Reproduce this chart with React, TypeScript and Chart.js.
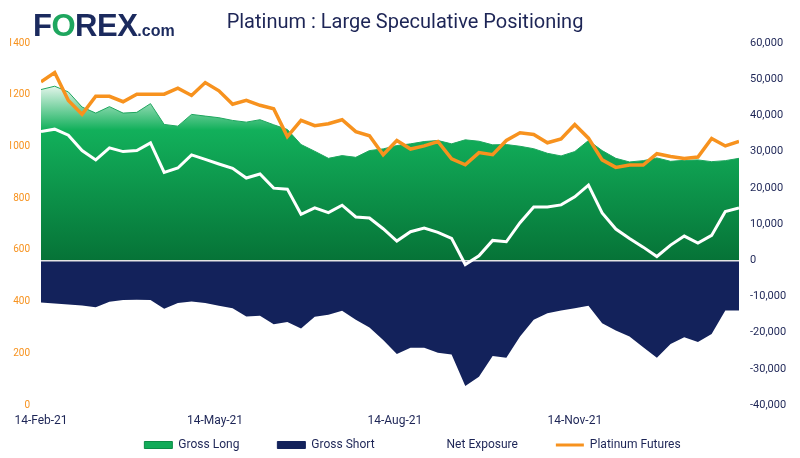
import React, { useEffect, useRef } from "react";
import { Chart, registerables } from "chart.js";

Chart.register(...registerables);

// Weekly report dates (categories)
const WEEKS = [
  "2021-02-14", "2021-02-21", "2021-02-28", "2021-03-07", "2021-03-14", "2021-03-21", "2021-03-28",
  "2021-04-04", "2021-04-11", "2021-04-18", "2021-04-25", "2021-05-02", "2021-05-09", "2021-05-16",
  "2021-05-23", "2021-05-30", "2021-06-06", "2021-06-13", "2021-06-20", "2021-06-27", "2021-07-04",
  "2021-07-11", "2021-07-18", "2021-07-25", "2021-08-01", "2021-08-08", "2021-08-15", "2021-08-22",
  "2021-08-29", "2021-09-05", "2021-09-12", "2021-09-19", "2021-09-26", "2021-10-03", "2021-10-10",
  "2021-10-17", "2021-10-24", "2021-10-31", "2021-11-07", "2021-11-14", "2021-11-21", "2021-11-28",
  "2021-12-05", "2021-12-12", "2021-12-19", "2021-12-26", "2022-01-02", "2022-01-09", "2022-01-16",
  "2022-01-23", "2022-01-30", "2022-02-06",
];

const X_TICK_DATES = ["2021-02-14", "2021-05-14", "2021-08-14", "2021-11-14"];
const X_TICK_LABELS = ["14-Feb-21", "14-May-21", "14-Aug-21", "14-Nov-21"];

const GROSS_LONG = [
  47140, 48060, 46480, 42310, 40640, 42420, 40640, 40840, 43250, 37500, 37030, 40280, 39810, 39360,
  38610, 38140, 38810, 37420, 36110, 31950, 30090, 28140, 28890, 28420, 30280, 30750, 31670, 32140,
  32780, 33060, 32140, 33250, 32860, 31860, 31950, 31470, 30800, 29530, 28810, 30000, 33060, 30280,
  28140, 27140, 27500, 28250, 27310, 27590, 27700, 27220, 27500, 28140,
];

const GROSS_SHORT = [
  -11670, -11940, -12220, -12500, -12970, -11480, -11020, -10930, -11020, -13430, -11850, -11390,
  -11850, -12590, -13240, -15560, -15370, -17680, -17040, -18890, -15650, -15090, -13980, -16480,
  -18610, -22040, -25930, -24170, -24170, -25560, -26020, -34720, -32220, -26480, -26940, -21110,
  -16480, -14630, -13890, -13240, -12590, -17410, -19440, -21110, -24080, -26940, -23150, -21300,
  -22590, -20370, -13890, -13890,
];

const NET_EXPOSURE = [
  35560, 36200, 34540, 30280, 27690, 31020, 30000, 30280, 32410, 24260, 25460, 29080, 27870, 26580,
  25370, 22690, 23800, 19910, 19630, 12690, 14440, 13150, 15190, 11940, 11670, 8700, 5280, 7870,
  8890, 7690, 6020, -1200, 1200, 5460, 5090, 10370, 14720, 14720, 15280, 17500, 20740, 13060, 8610,
  6020, 3610, 1020, 4170, 6670, 4720, 6850, 13430, 14440,
];

const PLATINUM_FUTURES = [
  1250, 1286, 1178, 1124, 1194, 1194, 1173, 1202, 1202, 1202, 1225, 1197, 1247, 1215, 1163, 1178,
  1159, 1146, 1038, 1101, 1080, 1088, 1103, 1057, 1041, 968, 1023, 990, 1002, 1019, 952, 929, 976,
  968, 1023, 1053, 1046, 1014, 1029, 1085, 1032, 948, 919, 928, 928, 972, 961, 953, 959, 1031, 1002,
  1019,
];

const NAVY = "#13225b";
const TEXT_NAVY = "#1d2556";
const ORANGE = "#f7921e";
const GREEN = "#12ab59";
const FONT = "Roboto, 'Open Sans', sans-serif";

const day = (s: string) => Date.parse(s + "T00:00:00Z") / 86400000;
const toXY = (vals: number[]) => vals.map((v, i) => ({ x: day(WEEKS[i]), y: v }));

const LEGEND_STYLE: any[] = [
  { pointStyle: "rect", fillStyle: GREEN, strokeStyle: "#0c8c47", lineWidth: 1 },
  { pointStyle: "rect", fillStyle: NAVY, strokeStyle: NAVY, lineWidth: 1 },
  { pointStyle: "line", fillStyle: "#ffffff", strokeStyle: "#ffffff", lineWidth: 3 },
  { pointStyle: "line", fillStyle: ORANGE, strokeStyle: ORANGE, lineWidth: 3 },
];

const PAD_LEFT = 10;
const LEGEND_PAD = 38;
const X_AXIS_H = 23;
const BOTTOM_PAD = -30;
const LEGEND_SHIFT_Y = 27;
const LEGEND_SHIFT_X = 15;

const longFill = (ctx: any) => {
  const chart = ctx.chart;
  const { chartArea, scales } = chart;
  if (!chartArea || !scales || !scales.y1) return GREEN;
  const y = scales.y1;
  const top = y.getPixelForValue(49000);
  const full = y.getPixelForValue(36000);
  const bottom = y.getPixelForValue(0);
  const g = chart.ctx.createLinearGradient(0, top, 0, bottom);
  g.addColorStop(0, "#f2faf5");
  g.addColorStop((full - top) / (bottom - top), "#12b05b");
  g.addColorStop(1, "#067337");
  return g;
};

const zeroLine = {
  id: "zeroLine",
  afterDatasetDraw(chart: any, args: any) {
    if (args.index !== 1) return;
    const y = chart.scales.y1.getPixelForValue(0);
    const { left, right } = chart.chartArea;
    const c = chart.ctx;
    c.save();
    c.strokeStyle = "#e4e4e4";
    c.lineWidth = 1.5;
    c.beginPath();
    c.moveTo(left, y + 0.5);
    c.lineTo(right, y + 0.5);
    c.stroke();
    c.restore();
  },
};

// Legend uses wide horizontal spacing; pull it back up into the canvas
const legendShift = {
  id: "legendShift",
  afterLayout(chart: any) {
    const l = chart.legend;
    if (l) {
      l.top -= LEGEND_SHIFT_Y;
      l.bottom -= LEGEND_SHIFT_Y;
      l.left += LEGEND_SHIFT_X;
    }
  },
};

export default function App() {
  const ref = useRef<HTMLCanvasElement>(null);

  useEffect(() => {
    const canvas = ref.current;
    if (!canvas) return;
    const chart = new Chart(canvas, {
      type: "line",
      data: {
        datasets: [
          {
            label: "Gross Long",
            data: toXY(GROSS_LONG),
            yAxisID: "y1",
            fill: "origin",
            backgroundColor: longFill,
            borderColor: "#1ea65e",
            borderWidth: 1,
            pointRadius: 0,
            tension: 0,
            order: 4,
          },
          {
            label: "Gross Short",
            data: toXY(GROSS_SHORT),
            yAxisID: "y1",
            fill: "origin",
            backgroundColor: NAVY,
            borderColor: NAVY,
            borderWidth: 0,
            pointRadius: 0,
            tension: 0,
            order: 3,
          },
          {
            label: "Net Exposure",
            data: toXY(NET_EXPOSURE),
            yAxisID: "y1",
            fill: false,
            borderColor: "#ffffff",
            backgroundColor: "#ffffff",
            borderWidth: 3,
            pointRadius: 0,
            tension: 0,
            order: 2,
          },
          {
            label: "Platinum Futures",
            data: toXY(PLATINUM_FUTURES),
            yAxisID: "y",
            fill: false,
            borderColor: ORANGE,
            backgroundColor: ORANGE,
            borderWidth: 3.5,
            pointRadius: 0,
            tension: 0,
            order: 1,
          },
        ] as any,
      },
      options: {
        responsive: false,
        animation: false,
        devicePixelRatio: 1,
        events: [],
        layout: { padding: { left: PAD_LEFT, right: 0, top: 0, bottom: BOTTOM_PAD } },
        scales: {
          x: {
            type: "linear",
            min: day(WEEKS[0]),
            max: day(WEEKS[WEEKS.length - 1]),
            grid: { display: false, drawTicks: false },
            border: { display: false },
            afterBuildTicks: (s: any) => {
              s.ticks = X_TICK_DATES.map((d) => ({ value: day(d) }));
            },
            afterFit: (s: any) => {
              s.height = X_AXIS_H;
            },
            ticks: {
              autoSkip: false,
              maxRotation: 0,
              padding: 9,
              color: TEXT_NAVY,
              font: { size: 12, family: FONT },
              callback: (v: any) => {
                const i = X_TICK_DATES.findIndex((d) => day(d) === v);
                return i >= 0 ? X_TICK_LABELS[i] : "";
              },
            },
          },
          y: {
            position: "left",
            min: 0,
            max: 1400,
            grid: { display: false, drawTicks: false },
            border: { display: false },
            afterFit: (s: any) => {
              s.width = 41 - PAD_LEFT;
            },
            ticks: {
              stepSize: 200,
              padding: 11,
              color: ORANGE,
              font: { size: 10, family: FONT },
              callback: (v: any) => String(v),
            },
          },
          y1: {
            position: "right",
            min: -40000,
            max: 60000,
            grid: { display: false, drawTicks: false },
            border: { display: false },
            afterFit: (s: any) => {
              s.width = 61;
            },
            ticks: {
              stepSize: 10000,
              padding: 11,
              color: TEXT_NAVY,
              font: { size: 11, family: FONT },
              callback: (v: any) => Number(v).toLocaleString("en-US"),
            },
          },
        } as any,
        plugins: {
          tooltip: { enabled: false },
          title: {
            display: true,
            text: "Platinum : Large Speculative Positioning",
            color: TEXT_NAVY,
            font: { size: 20, family: FONT, weight: "normal" },
            padding: { top: 11, bottom: 8 },
          },
          legend: {
            position: "bottom",
            labels: {
              usePointStyle: true,
              pointStyleWidth: 28,
              boxHeight: 7,
              padding: LEGEND_PAD,
              color: TEXT_NAVY,
              font: { size: 12, family: FONT },
              sort: (a: any, b: any) => a.datasetIndex - b.datasetIndex,
              generateLabels: (c: any) => {
                const items = (Chart.defaults.plugins.legend.labels as any).generateLabels(c);
                return items.map((it: any) => ({ ...it, ...LEGEND_STYLE[it.datasetIndex] }));
              },
            },
          },
        } as any,
      },
      plugins: [zeroLine, legendShift],
    });
    return () => chart.destroy();
  }, []);

  return (
    <div style={{ position: "absolute", left: 0, top: 0, width: 800, height: 458, background: "#ffffff" }}>
      <canvas ref={ref} width={800} height={458} style={{ display: "block", width: 800, height: 458 }} />
      <div
        style={{
          position: "absolute",
          left: 33,
          top: 11,
          fontFamily: "'Liberation Sans', Arial, sans-serif",
          fontWeight: 700,
          color: "#1b2a5e",
          whiteSpace: "nowrap",
          lineHeight: "30px",
        }}
      >
        <span style={{ fontSize: 31, letterSpacing: -0.5 }}>F</span>
        <span style={{ fontSize: 31, letterSpacing: -0.5, color: "#1ea65e" }}>O</span>
        <span style={{ fontSize: 31, letterSpacing: -0.5 }}>REX</span>
        <span style={{ fontSize: 16 }}>.com</span>
      </div>
    </div>
  );
}
